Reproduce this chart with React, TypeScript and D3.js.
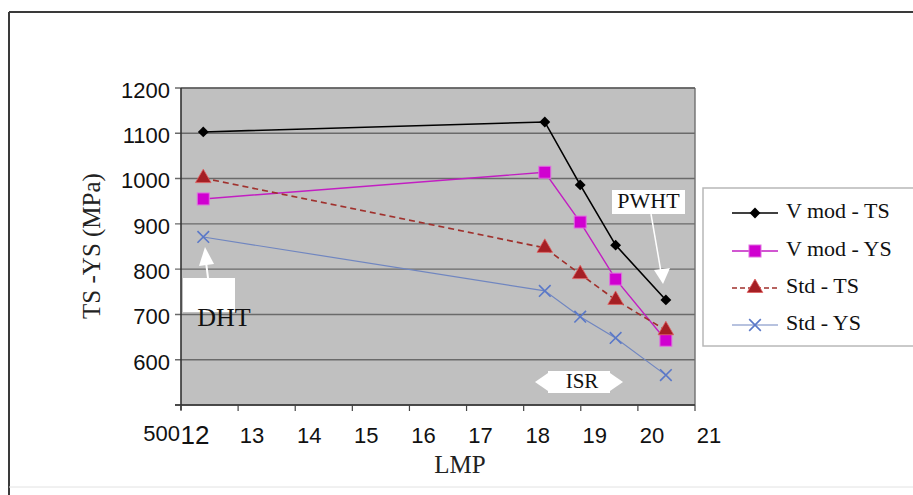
import * as d3 from "d3"

const lmp = [12.39, 18.37, 18.99, 19.61, 20.49]
const vModTS = [1103, 1125, 986, 853, 732]
const vModYS = [955, 1014, 904, 778, 643]
const stdTS = [1001, 847, 789, 732, 665]
const stdYS = [871, 752, 695, 648, 566]
const seriesNames = ["V mod - TS", "V mod - YS", "Std - TS", "Std - YS"]
const yTicks = [500, 600, 700, 800, 900, 1000, 1100, 1200]
const xTicks = [12, 13, 14, 15, 16, 17, 18, 19, 20, 21]

const W = 913
const H = 495
const plot = { left: 181, right: 695, top: 88, bottom: 405 }

const series = [
  { name: seriesNames[0], values: vModTS, color: "#000000", marker: "diamond", width: 1.6, dash: "" },
  { name: seriesNames[1], values: vModYS, color: "#c21ec2", marker: "square", width: 1.4, dash: "" },
  { name: seriesNames[2], values: stdTS, color: "#a0302c", marker: "triangle", width: 1.6, dash: "6,4" },
  { name: seriesNames[3], values: stdYS, color: "#7086c0", marker: "cross", width: 1.2, dash: "" },
]

function Marker({ type, x, y, color }: { type: string; x: number; y: number; color: string }) {
  if (type === "diamond") {
    const p = d3.symbol().type(d3.symbolDiamond2).size(75)()
    return <path d={p!} transform={`translate(${x},${y})`} fill={color} />
  }
  if (type === "square") {
    return <rect x={x - 6} y={y - 6} width={12} height={12} fill="#d000d0" stroke="#e070e0" strokeWidth={1} />
  }
  if (type === "triangle") {
    const p = d3.symbol().type(d3.symbolTriangle).size(105)()
    return <path d={p!} transform={`translate(${x},${y})`} fill="#a51f24" stroke="#e06060" strokeWidth={0.8} />
  }
  const p = d3.symbol().type(d3.symbolX).size(90)()
  return <path d={p!} transform={`translate(${x},${y})`} fill="none" stroke="#5a78c8" strokeWidth={1.6} />
}

export default function App() {
  const x = d3.scaleLinear().domain([12, 21]).range([plot.left, plot.right])
  const y = d3.scaleLinear().domain([500, 1200]).range([plot.bottom, plot.top])

  const line = d3
    .line<[number, number]>()
    .x((d) => x(d[0]))
    .y((d) => y(d[1]))

  const legendRows = [213, 251, 288, 325]
  const sans = "Liberation Sans, Arial, sans-serif"
  const serif = "Liberation Serif, Times New Roman, serif"

  return (
    <svg width={W} height={H} style={{ position: "absolute", left: 0, top: 0, background: "#fff" }}>
      {/* outer frame */}
      <line x1={9} y1={12} x2={W} y2={12} stroke="#3a3a3a" strokeWidth={2} />
      <line x1={9} y1={12} x2={9} y2={H} stroke="#3a3a3a" strokeWidth={2} />
      <line x1={9} y1={487} x2={W} y2={487} stroke="#e2e2e2" strokeWidth={1} />

      {/* plot area */}
      <rect x={plot.left} y={plot.top} width={plot.right - plot.left} height={plot.bottom - plot.top} fill="#c0c0c0" />
      {yTicks.map((t) => (
        <g key={t}>
          <line x1={plot.left - 6} x2={plot.right} y1={y(t)} y2={y(t)} stroke="#6a6a6a" strokeWidth={1.4} />
          <text
            x={t === 500 ? 180 : 170}
            y={t === 500 ? 435 : y(t) + 4}
            textAnchor="end"
            dominantBaseline="middle"
            fontFamily={sans}
            fontSize={22}
            fill="#111"
          >
            {t}
          </text>
        </g>
      ))}
      <line x1={plot.right} x2={plot.right} y1={plot.top} y2={plot.bottom} stroke="#707070" strokeWidth={1.4} />
      <line x1={plot.left} x2={plot.right} y1={plot.top} y2={plot.top} stroke="#555" strokeWidth={1.2} />
      <line x1={plot.left} x2={plot.left} y1={plot.top} y2={plot.bottom + 5} stroke="#333" strokeWidth={1.6} />
      <line x1={plot.left - 6} x2={plot.right} y1={plot.bottom} y2={plot.bottom} stroke="#333" strokeWidth={1.6} />
      {xTicks.map((t) => (
        <g key={t}>
          <line x1={x(t)} x2={x(t)} y1={plot.bottom} y2={plot.bottom + 6} stroke="#444" strokeWidth={1.2} />
          <text
            x={x(t) + 14}
            y={437}
            textAnchor="middle"
            dominantBaseline="middle"
            fontFamily={sans}
            fontSize={t === 12 ? 26 : 22}
            fill="#111"
          >
            {t}
          </text>
        </g>
      ))}

      {/* series */}
      {series.map((s) => (
        <g key={s.name}>
          <path
            d={line(lmp.map((l, i) => [l, s.values[i]] as [number, number]))!}
            fill="none"
            stroke={s.color}
            strokeWidth={s.width}
            strokeDasharray={s.dash}
          />
          {lmp.map((l, i) => (
            <Marker key={i} type={s.marker} x={x(l)} y={y(s.values[i])} color={s.color} />
          ))}
        </g>
      ))}

      {/* annotations */}
      <rect x={183} y={278} width={52} height={34} fill="#fff" />
      <line x1={208} y1={278} x2={206} y2={262} stroke="#fff" strokeWidth={2} />
      <path d="M199,266 L205,247 L214,264 Z" fill="#fff" />
      <text x={224} y={320} textAnchor="middle" dominantBaseline="middle" fontFamily={serif} fontSize={26} fill="#111">
        DHT
      </text>

      <rect x={612} y={190} width={73} height={24} fill="#fff" />
      <text x={648.5} y={203} textAnchor="middle" dominantBaseline="middle" fontFamily={serif} fontSize={22} fill="#111">
        PWHT
      </text>
      <line x1={651} y1={214} x2={661} y2={272} stroke="#fff" strokeWidth={1.5} />
      <path d="M654,270 L663,284 L670,268 Z" fill="#fff" />

      <path d="M535,382 L548,373 L548,391 Z" fill="#fff" />
      <path d="M623,382 L610,373 L610,391 Z" fill="#fff" />
      <rect x={548} y={371} width={62} height={22} fill="#fff" />
      <text x={582} y={383} textAnchor="middle" dominantBaseline="middle" fontFamily={serif} fontSize={21} fill="#111">
        ISR
      </text>

      {/* axis titles */}
      <text
        transform="translate(94,246) rotate(-90)"
        textAnchor="middle"
        dominantBaseline="middle"
        fontFamily={serif}
        fontSize={25}
        fill="#222"
      >
        TS -YS (MPa)
      </text>
      <text x={460} y={467} textAnchor="middle" dominantBaseline="middle" fontFamily={serif} fontSize={25} fill="#222">
        LMP
      </text>

      {/* legend */}
      <rect x={703} y={188} width={215} height={158} fill="#fff" stroke="#b8b8b8" strokeWidth={1.5} />
      {series.map((s, i) => (
        <g key={s.name}>
          <line x1={732} x2={778} y1={legendRows[i]} y2={legendRows[i]} stroke={s.color} strokeWidth={s.width} strokeDasharray={s.dash ? "5,3" : ""} />
          <Marker type={s.marker} x={755} y={legendRows[i]} color={s.color} />
          <text x={786} y={legendRows[i]} dominantBaseline="middle" fontFamily={serif} fontSize={22} fill="#111">
            {s.name}
          </text>
        </g>
      ))}
    </svg>
  )
}
